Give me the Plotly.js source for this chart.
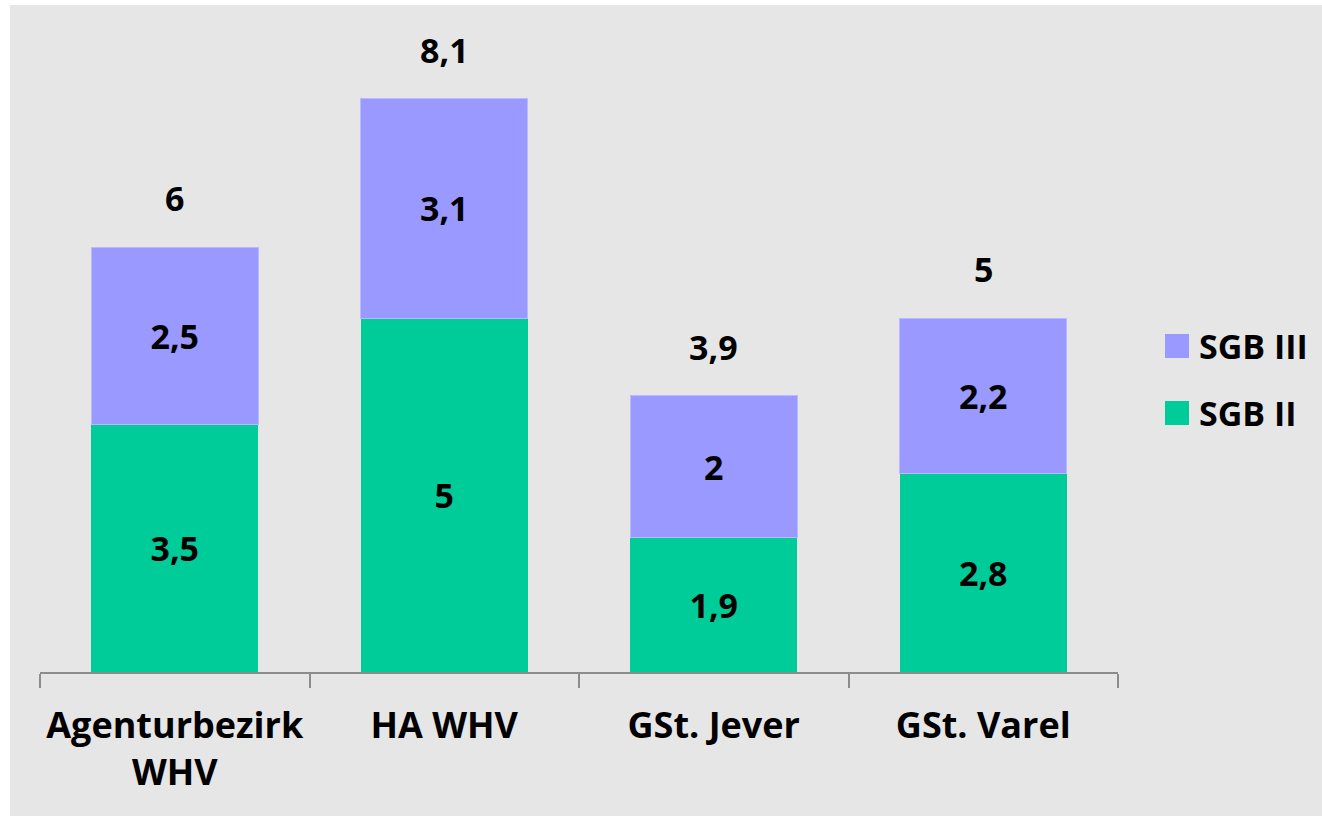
<!DOCTYPE html>
<html>
<head>
<meta charset="utf-8">
<script src="https://cdn.plot.ly/plotly-3.0.1.min.js"></script>
<style>
  body { margin: 0; background: #ffffff; }
  #chart { position: absolute; left: 10px; top: 5px; width: 1312px; height: 811px; }
</style>
</head>
<body>
<div id="chart"></div>
<script>
// categories and values
const categories = ["Agenturbezirk<br>WHV", "HA WHV", "GSt. Jever", "GSt. Varel"];
const sgb2 = [3.5, 5, 1.9, 2.8];
const sgb3 = [2.5, 3.1, 2, 2.2];
const totals = [6, 8.1, 3.9, 5];

const green = "#00cc99";
const purple = "#9999ff";
const fontFam = "Open Sans, Liberation Sans, sans-serif";

// german decimal comma
const fmt = v => String(v).replace(".", ",");

const data = [
  {
    x: categories,
    y: sgb2,
    name: "SGB II",
    type: "bar",
    marker: { color: green },
    text: sgb2.map(fmt),
    textposition: "inside",
    insidetextanchor: "middle",
    textfont: { family: fontFam, size: 34, weight: "bold", color: "#000" },
    hoverinfo: "name+y"
  },
  {
    x: categories,
    y: sgb3,
    name: "SGB III",
    type: "bar",
    marker: { color: purple, line: { color: "#b9b9ff", width: 1 } },
    text: sgb3.map(fmt),
    textposition: "inside",
    insidetextanchor: "middle",
    textfont: { family: fontFam, size: 34, weight: "bold", color: "#000" },
    hoverinfo: "name+y"
  }
];

// totals above the stacks
const annotations = categories.map((c, i) => ({
  x: c,
  y: totals[i],
  text: fmt(totals[i]),
  showarrow: false,
  yanchor: "bottom",
  yshift: 24,
  font: { family: fontFam, size: 34, weight: "bold", color: "#000" }
}));

// legend drawn by hand so the keys can be big like the original
const legendItems = [
  { name: "SGB III", color: purple, y: 346 },
  { name: "SGB II", color: green, y: 413 }
];
const shapes = [];
legendItems.forEach(it => {
  const yPaper = 1 - (it.y - 5 - 30) / 637; // page px -> paper fraction
  shapes.push({
    type: "rect", xref: "paper", yref: "paper",
    x0: (1165 - 40) / 1078, x1: (1189 - 40) / 1078,
    y0: yPaper - 12 / 637, y1: yPaper + 12 / 637,
    fillcolor: it.color, line: { width: 0 }
  });
  annotations.push({
    xref: "paper", yref: "paper",
    x: (1197 - 40) / 1078, y: yPaper,
    xanchor: "left", yanchor: "middle",
    text: it.name, showarrow: false,
    font: { family: fontFam, size: 34, weight: "bold", color: "#000" }
  });
});

const layout = {
  barmode: "stack",
  bargap: 0.38,
  showlegend: false,
  paper_bgcolor: "#e6e6e6",
  plot_bgcolor: "#e6e6e6",
  margin: { l: 30, r: 204, t: 30, b: 144 },
  font: { family: fontFam, color: "#000" },
  xaxis: {
    showline: true,
    linecolor: "#8c8c8c",
    linewidth: 1.5,
    ticks: "outside",
    tickson: "boundaries",
    ticklen: 14,
    tickcolor: "#8c8c8c",
    tickwidth: 1.5,
    ticklabelstandoff: 21,
    tickfont: { family: fontFam, size: 36, weight: "bold", color: "#000" },
    fixedrange: true
  },
  yaxis: {
    range: [0, 9],
    visible: false,
    showgrid: false,
    zeroline: false,
    fixedrange: true
  },
  annotations: annotations,
  shapes: shapes
};

Plotly.newPlot("chart", data, layout, { displayModeBar: false });
</script>
</body>
</html>
